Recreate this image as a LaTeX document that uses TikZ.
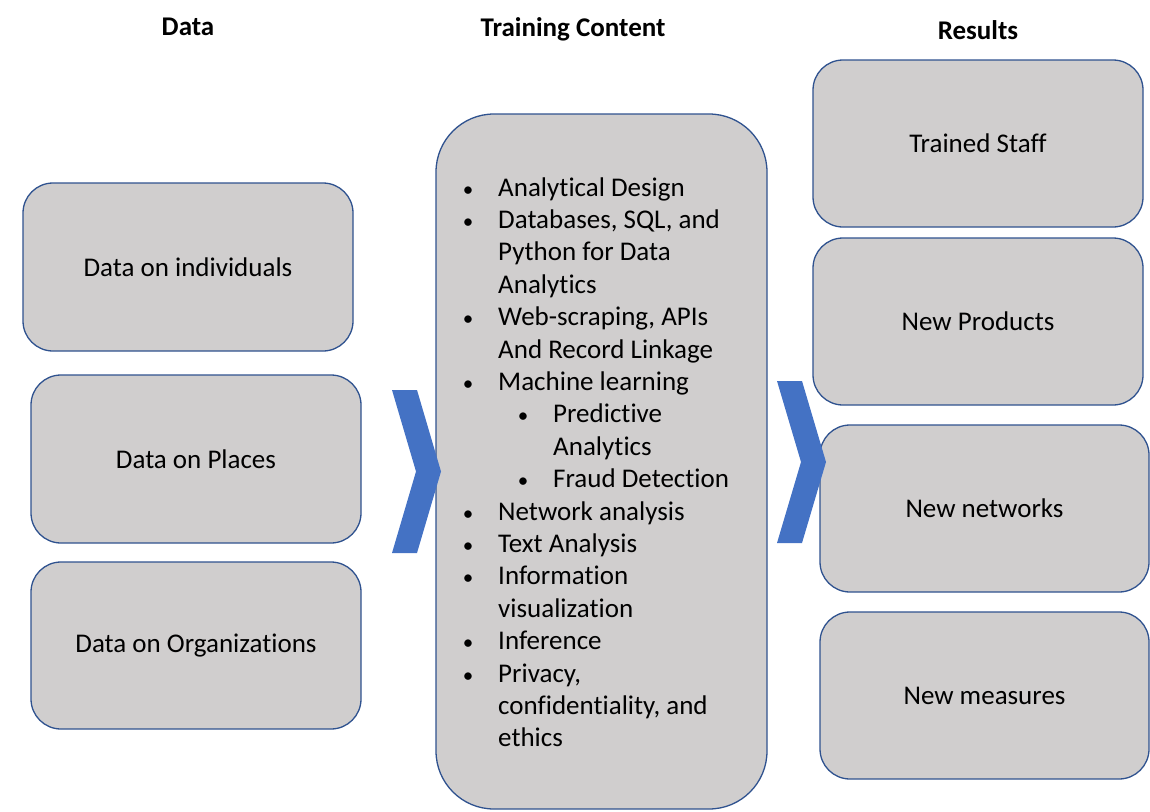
\documentclass[tikz,border=0pt]{standalone}
\usepackage{fontspec}
\setmainfont{Carlito}[Ligatures={NoCommon,NoContextual}]
\definecolor{boxfill}{RGB}{208,206,206}
\definecolor{boxline}{RGB}{47,82,143}
\definecolor{chevfill}{RGB}{68,114,196}
\begin{document}
\begin{tikzpicture}[x=1pt,y=-1pt,
  box/.style={draw=boxline, line width=1.3pt, fill=boxfill, rounded corners=30pt,
    inner sep=0pt, font=\fontsize{27}{32}\selectfont},
  bigbox/.style={draw=boxline, line width=1.3pt, fill=boxfill, rounded corners=58pt, inner sep=0pt},
  title/.style={font=\fontsize{27}{32}\selectfont\bfseries, inner sep=0pt},
  item/.style={font=\fontsize{27}{32}\selectfont, inner sep=0pt, anchor=base west},
  bul/.style={font=\fontsize{21}{25}\selectfont, inner sep=0pt, anchor=base},
  chev/.style={fill=chevfill, draw=none}]
\useasboundingbox (0,0) rectangle (1150,811);

% titles
\node[title] (tdata) at (188,27) {Data};
\node[title] (ttrain) at (573,29) {Training Content};
\node[title] (tres) at (978,30) {Results};

% left boxes
\node[box, minimum width=330pt, minimum height=168pt] (ind) at (188,267) {Data on individuals};
\node[box, minimum width=330pt, minimum height=168pt] (pla) at (196,459) {Data on Places};
\node[box, minimum width=330pt, minimum height=167pt] (org) at (196,645.5) {Data on Organizations};

% right boxes
\node[box, minimum width=330pt, minimum height=167pt] (staff) at (978,143.5) {Trained Staff};
\node[box, minimum width=330pt, minimum height=167pt] (prod) at (978,321.5) {New Products};
\node[box, minimum width=329pt, minimum height=167pt] (netw) at (984.5,508.5) {New networks};
\node[box, minimum width=329pt, minimum height=167pt] (meas) at (984.5,695.5) {New measures};

% central box
\node[bigbox, minimum width=331pt, minimum height=695pt] (train) at (601.5,461.5) {};

% list
\foreach \t/\x/\b [count=\i] in {
  {Analytical Design}/498/1,
  {Databases, SQL, and}/498/1,
  {Python for Data}/498/0,
  {Analytics}/498/0,
  {Web-scraping, APIs}/498/1,
  {And Record Linkage}/498/0,
  {Machine learning}/498/1,
  {Predictive}/553/1,
  {Analytics}/553/0,
  {Fraud Detection}/553/1,
  {Network analysis}/498/1,
  {Text Analysis}/498/1,
  {Information}/498/1,
  {visualization}/498/0,
  {Inference}/498/1,
  {Privacy,}/498/1,
  {confidentiality, and}/498/0,
  {ethics}/498/0}
{
  \node[item] (item\i) at (\x,{196+(\i-1)*32.4}) {\t};
  \ifnum\b=1
    \node[bul] (bul\i) at ({\x-30},{196+(\i-1)*32.4}) {•};
  \fi
}

% chevrons
\fill[chev] (392,390) -- (417,390) -- (441,471.5) -- (417,553) -- (392,553) -- (416,471.5) -- cycle;
\fill[chev] (777,381) -- (802,381) -- (826,462) -- (802,543) -- (777,543) -- (801,462) -- cycle;
\end{tikzpicture}
\end{document}
